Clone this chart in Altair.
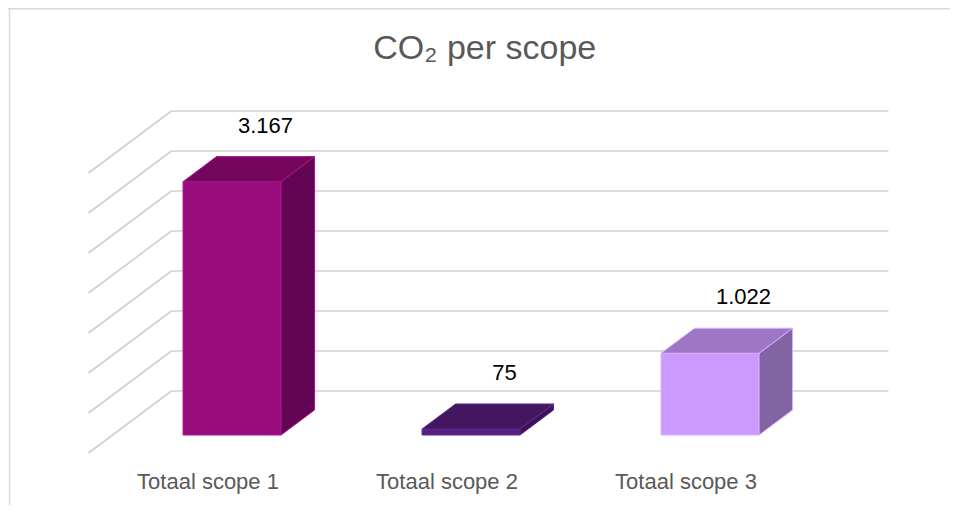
import altair as alt
import pandas as pd

# ---- data ----
categories = ["Totaal scope 1", "Totaal scope 2", "Totaal scope 3"]
values = [3167, 75, 1022]
value_labels = ["3.167", "75", "1.022"]
grid_ticks = [0, 500, 1000, 1500, 2000, 2500, 3000, 3500]

front_colors = ["#990c7b", "#561d84", "#cc99ff"]
top_colors = ["#74065e", "#43165f", "#9d76c4"]
side_colors = ["#630552", "#3c115c", "#8264a5"]
edge_colors = ["#a8158c", "#5e2a8c", "#d8b0ff"]

# ---- oblique projection (style constants) ----
DX = 0.347      # horizontal shift of full floor depth, in category units
DY = 775.0      # vertical shift of full floor depth, in value units
Z_FRONT = 0.29  # bar front depth
Z_BACK = 0.694  # bar back depth
HALF_W = 0.205  # half bar width in category units
FLOOR_L, FLOOR_R = -0.5, 2.5

def proj(x, v, z):
    return x + z * DX, v + z * DY

# back-wall grid lines and left-wall diagonals
grid_rows, diag_rows = [], []
for t in grid_ticks:
    x1, y1 = proj(FLOOR_L, t, 1.0)
    x2, y2 = proj(FLOOR_R, t, 1.0)
    grid_rows.append({"x": x1, "x2": x2, "y": y1, "y2": y2})
    x3, y3 = proj(FLOOR_L, t, 0.0)
    diag_rows.append({"x": x3, "x2": x1, "y": y3, "y2": y1})
grid_df = pd.DataFrame(grid_rows + diag_rows)

# bar faces as areas
face_rows = []
face_order, face_fill, face_edge = [], [], []
for i, (cat, v) in enumerate(zip(categories, values)):
    xl, xr = i - HALF_W, i + HALF_W
    # front face
    fid = f"{i}-front"
    face_order.append(fid); face_fill.append(front_colors[i]); face_edge.append(edge_colors[i])
    for xx in (xl, xr):
        px, py0 = proj(xx, 0, Z_FRONT)
        _, py1 = proj(xx, v, Z_FRONT)
        face_rows.append({"face": fid, "x": px, "y": py0, "y2": py1})
    # side face
    fid = f"{i}-side"
    face_order.append(fid); face_fill.append(side_colors[i]); face_edge.append(edge_colors[i])
    for z in (Z_FRONT, Z_BACK):
        px, py0 = proj(xr, 0, z)
        _, py1 = proj(xr, v, z)
        face_rows.append({"face": fid, "x": px, "y": py0, "y2": py1})
    # top face
    fid = f"{i}-top"
    face_order.append(fid); face_fill.append(top_colors[i]); face_edge.append(edge_colors[i])
    xlf, yf = proj(xl, v, Z_FRONT)
    xrf, _ = proj(xr, v, Z_FRONT)
    xlb, yb = proj(xl, v, Z_BACK)
    xrb, _ = proj(xr, v, Z_BACK)
    face_rows += [
        {"face": fid, "x": xlf, "y": yf, "y2": yf},
        {"face": fid, "x": xlb, "y": yf, "y2": yb},
        {"face": fid, "x": xrf, "y": yf, "y2": yb},
        {"face": fid, "x": xrb, "y": yb, "y2": yb},
    ]
face_df = pd.DataFrame(face_rows)

label_rows = []
for i, (cat, v, lab) in enumerate(zip(categories, values, value_labels)):
    lx, ly = proj(i, v, Z_BACK)
    cx, cy = proj(i, 0, 0.0)
    label_rows.append({"cat": cat, "lab": lab, "lx": lx, "ly": ly, "cx": cx, "cy": cy})
label_df = pd.DataFrame(label_rows)

xs = alt.Scale(domain=[-0.8368, 3.1046], nice=False, zero=False)
ys = alt.Scale(domain=[-650, 5562.5], nice=False, zero=False)

grid = alt.Chart(grid_df).mark_rule(color="#d0d0d0", strokeWidth=1.6).encode(
    x=alt.X("x:Q", scale=xs, axis=None),
    x2="x2:Q",
    y=alt.Y("y:Q", scale=ys, axis=None),
    y2="y2:Q",
)

faces = alt.Chart(face_df).mark_area(strokeWidth=1, interpolate="linear").encode(
    x=alt.X("x:Q", scale=xs, axis=None),
    y=alt.Y("y:Q", scale=ys, axis=None),
    y2="y2:Q",
    color=alt.Color("face:N", scale=alt.Scale(domain=face_order, range=face_fill), legend=None),
    stroke=alt.Stroke("face:N", scale=alt.Scale(domain=face_order, range=face_edge), legend=None),
    detail="face:N",
)

value_text = alt.Chart(label_df).mark_text(
    font="Liberation Sans", fontSize=22, color="#000000", baseline="middle", dy=-31
).encode(
    x=alt.X("lx:Q", scale=xs, axis=None),
    y=alt.Y("ly:Q", scale=ys, axis=None),
    text="lab:N",
)

cat_text = alt.Chart(label_df).mark_text(
    font="Liberation Sans", fontSize=22, color="#595959", baseline="middle", dy=29
).encode(
    x=alt.X("cx:Q", scale=xs, axis=None),
    y=alt.Y("cy:Q", scale=ys, axis=None),
    text="cat:N",
)

border_left = alt.Chart(pd.DataFrame({"a": [0]})).mark_rule(color="#d9d9d9", strokeWidth=1.5).encode(
    x=alt.value(1.5)
)
border_top = alt.Chart(pd.DataFrame({"a": [0]})).mark_rule(color="#d9d9d9", strokeWidth=1.5).encode(
    y=alt.value(0.75)
)
mask_right = alt.Chart(pd.DataFrame({"a": [0]})).mark_rule(color="#ffffff", strokeWidth=4).encode(
    x=alt.value(941), y=alt.value(2), y2=alt.value(497)
)

chart = alt.layer(border_left, border_top, grid, faces, value_text, cat_text, mask_right).properties(
    width=942,
    height=497,
    padding=0,
    autosize=alt.AutoSizeParams(type="none"),
    title=alt.TitleParams(
        "CO₂ per scope", font="Liberation Sans", fontSize=34, fontWeight="normal",
        color="#595959", anchor="start", offset=-76, baseline="middle", dx=366,
    ),
).configure_view(strokeWidth=0).resolve_scale(color="independent", stroke="independent")

chart.save("out.html", embed_options={"renderer": "svg", "actions": False})
